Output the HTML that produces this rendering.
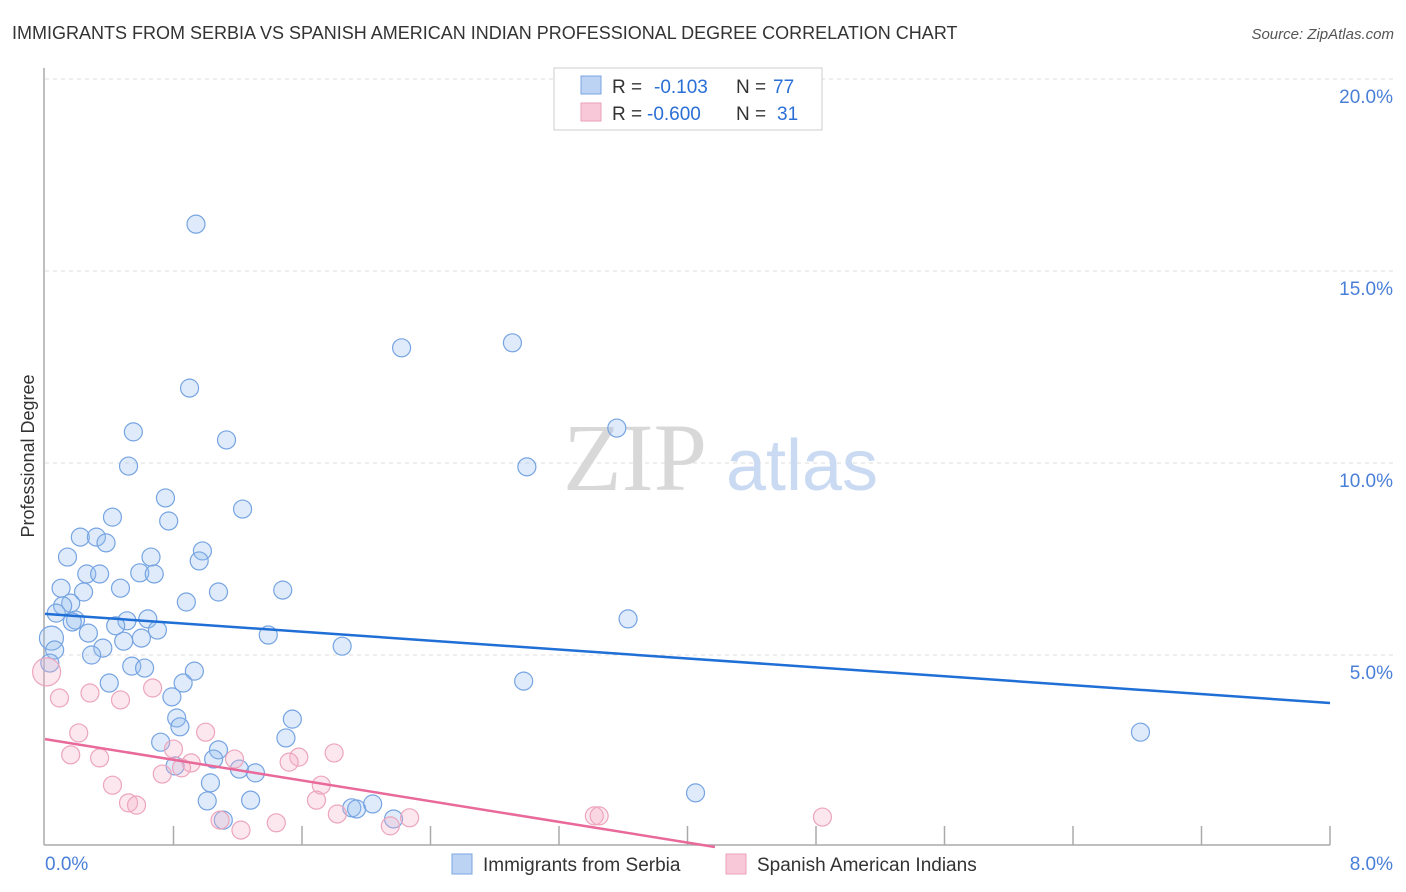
<!DOCTYPE html>
<html><head><meta charset="utf-8"><style>
body{margin:0;background:#fff;font-family:"Liberation Sans",sans-serif;}
svg{display:block}
</style></head><body>
<svg id="chart" width="1406" height="892" xmlns="http://www.w3.org/2000/svg">
<text x="12" y="39" font-size="18" fill="#333">IMMIGRANTS FROM SERBIA VS SPANISH AMERICAN INDIAN PROFESSIONAL DEGREE CORRELATION CHART</text>
<text x="1394" y="39" font-size="15" fill="#555" font-style="italic" text-anchor="end">Source: ZipAtlas.com</text>
<g id="grid"></g>
<g>
<text x="635" y="490" font-size="96" fill="#d8d8d8" font-family="Liberation Serif,serif" text-anchor="middle">ZIP</text>
<text x="802" y="490" font-size="72" fill="#c9daf2" text-anchor="middle">atlas</text>
</g>
<g id="axes"></g>
<g id="pts"></g>
<g id="lines"></g>
<text transform="translate(34,456) rotate(-90)" font-size="18" fill="#333" text-anchor="middle">Professional Degree</text>
<g>
<rect x="554" y="68" width="268" height="62" fill="#fff" stroke="#ccc"/>
<rect x="581" y="76" width="20" height="18" fill="#bcd3f3" stroke="#7aa6e0"/>
<rect x="581" y="103" width="20" height="18" fill="#f8c8d8" stroke="#eaa0b8"/>
<text x="612" y="93" font-size="19" fill="#333">R =</text>
<text x="654" y="93" font-size="19" fill="#2a6fd6">-0.103</text>
<text x="736" y="93" font-size="19" fill="#333">N =</text>
<text x="773" y="93" font-size="19" fill="#2a6fd6">77</text>
<text x="612" y="120" font-size="19" fill="#333">R =</text>
<text x="647" y="120" font-size="19" fill="#2a6fd6">-0.600</text>
<text x="736" y="120" font-size="19" fill="#333">N =</text>
<text x="777" y="120" font-size="19" fill="#2a6fd6">31</text>
</g>
<g>
<rect x="452" y="854" width="20" height="20" fill="#bcd3f3" stroke="#7aa6e0"/>
<text x="483" y="871" font-size="19" fill="#333">Immigrants from Serbia</text>
<rect x="726" y="854" width="20" height="20" fill="#f8c8d8" stroke="#eaa0b8"/>
<text x="757" y="871" font-size="19" fill="#333">Spanish American Indians</text>
</g>
</svg>
<script>
const blueX=[0.94,0.90,2.22,2.91,3.56,3.00,0.55,1.13,0.52,0.75,0.77,1.23,0.42,0.22,0.32,0.38,0.14,0.66,0.98,0.96,0.26,0.34,0.59,0.68,0.10,0.24,0.47,1.08,1.48,0.88,0.16,0.11,0.07,0.19,0.17,0.51,0.64,0.44,0.70,0.27,1.39,0.49,0.60,0.04,3.63,1.85,0.06,0.36,0.29,0.03,0.54,0.62,0.93,0.40,0.86,2.98,0.79,0.82,0.84,1.54,0.72,1.50,1.08,1.05,0.81,1.21,1.31,1.03,6.82,1.01,1.28,4.05,1.91,1.94,2.04,2.17,1.11];
const blueY=[16.22,11.95,13.0,13.13,10.91,9.90,10.81,10.60,9.92,9.09,8.49,8.80,8.59,8.07,8.07,7.92,7.55,7.55,7.71,7.45,7.11,7.11,7.14,7.11,6.74,6.64,6.74,6.64,6.69,6.38,6.35,6.28,6.09,5.91,5.86,5.89,5.94,5.76,5.65,5.57,5.52,5.36,5.44,5.44,5.94,5.23,5.13,5.18,5.00,4.79,4.71,4.66,4.58,4.27,4.27,4.32,3.91,3.36,3.13,3.33,2.73,2.84,2.53,2.29,2.11,2.03,1.93,1.67,2.99,1.20,1.22,1.41,1.02,0.99,1.12,0.73,0.70];
const pinkX=[0.01,0.09,0.28,0.47,0.67,0.21,1.00,0.16,0.34,0.80,1.18,1.58,1.80,0.91,1.52,0.85,0.73,0.42,1.72,0.52,0.57,1.69,1.82,1.09,1.44,1.22,2.15,2.27,3.42,3.45,4.84];
const pinkY=[4.56,3.88,4.01,3.83,4.14,2.97,2.99,2.40,2.32,2.55,2.29,2.34,2.45,2.19,2.21,2.06,1.90,1.61,1.61,1.15,1.09,1.22,0.86,0.70,0.63,0.44,0.55,0.76,0.81,0.81,0.78];
const blueTrend=[6.07,3.75]; // y at x=0 and x=8
const pinkTrend=[2.81,-2.58]; // y at x=0 and x=8
const yTicks=[5,10,15,20];
const yTickLabels=["5.0%","10.0%","15.0%","20.0%"];
const xTickVals=[0.8,1.6,2.4,3.2,4.0,4.8,5.6,6.4,7.2,8.0];
const NS="http://www.w3.org/2000/svg";
const sx=v=>45+v/8*1285, sy=v=>847-v/5*192;
function mk(tag,attrs,parent){const e=document.createElementNS(NS,tag);for(const k in attrs)e.setAttribute(k,attrs[k]);parent.appendChild(e);return e;}
const grid=document.getElementById('grid'),axes=document.getElementById('axes'),pts=document.getElementById('pts'),lines=document.getElementById('lines');
yTicks.forEach((t,i)=>{
 const l=mk('line',{x1:45,x2:1393,y1:sy(t),y2:sy(t),stroke:'#ddd','stroke-dasharray':'4,4'},grid);
 
 
 const tx=mk('text',{x:1393,y:sy(t)+24,'font-size':19,fill:'#4a7fd8','text-anchor':'end'},axes);
 tx.textContent=yTickLabels[i];
 
 
});
const ya=mk('line',{x1:44,x2:44,y1:68,y2:845,stroke:'#aaa','stroke-width':1.5},axes);


const xa=mk('line',{x1:44,x2:1330,y1:845,y2:845,stroke:'#aaa','stroke-width':1.5},axes);


xTickVals.forEach(v=>{
 const t=mk('line',{x1:sx(v),x2:sx(v),y1:826,y2:845,stroke:'#aaa','stroke-width':1.5},axes);
 
 
});
const x0=mk('text',{x:45,y:870,'font-size':19,fill:'#4a7fd8'},axes);x0.textContent='0.0%';


const x1=mk('text',{x:1393,y:870,'font-size':19,fill:'#4a7fd8','text-anchor':'end'},axes);x1.textContent='8.0%';


blueX.forEach((v,i)=>{
 const c=mk('circle',{cx:sx(v),cy:sy(blueY[i]),r:(i==43?12:9),fill:'rgba(150,188,238,0.3)',stroke:'#76a4e2','stroke-width':1.2},pts);
 
 
});
pinkX.forEach((v,i)=>{
 const c=mk('circle',{cx:sx(v),cy:sy(pinkY[i]),r:(i==0?14:9),fill:'rgba(245,175,198,0.3)',stroke:'#eca5bc','stroke-width':1.2},pts);
 
 
});
const bl=mk('line',{x1:sx(0),y1:sy(blueTrend[0]),x2:sx(8),y2:sy(blueTrend[1]),stroke:'#1f6fd6','stroke-width':2.5},lines);


const xz=8*pinkTrend[0]/(pinkTrend[0]-pinkTrend[1]);
const pl=mk('line',{x1:sx(0),y1:sy(pinkTrend[0]),x2:sx(xz),y2:sy(0),stroke:'#e8699a','stroke-width':2.5},lines);


</script>
</body></html>
